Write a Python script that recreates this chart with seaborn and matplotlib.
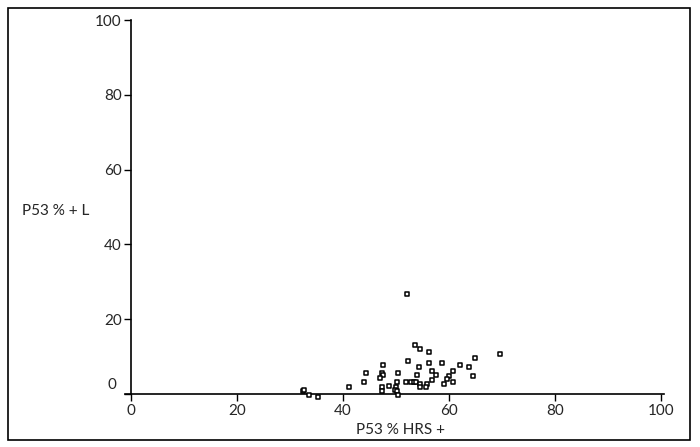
import numpy as np
import pandas as pd
import seaborn as sns
import matplotlib.pyplot as plt
from matplotlib.patches import Rectangle

# values
hrs = [52.1, 53.5, 54.6, 56.3, 69.7, 64.9, 47.6, 52.3, 56.3, 58.6,
       62.1, 63.8, 54.4, 60.8, 56.8, 44.4, 47.4, 50.4, 47.6, 57.6,
       54.0, 64.6, 47.0, 59.9, 59.7, 56.8, 44.0, 50.1, 51.8, 52.9,
       53.3, 53.8, 60.8, 54.6, 55.9, 59.1, 48.7, 41.2, 47.4, 49.9,
       54.6, 55.7, 49.7, 47.4, 50.1, 50.4, 32.5, 32.6, 33.6, 35.2]
lpos = [26.8, 13.1, 12.1, 11.1, 10.8, 9.7, 7.7, 8.7, 8.2, 8.2,
        7.7, 7.2, 7.2, 6.2, 6.2, 5.7, 5.7, 5.7, 5.1, 5.1,
        5.2, 4.7, 4.2, 4.7, 3.9, 3.8, 3.3, 3.3, 3.3, 3.3,
        3.3, 3.3, 3.3, 2.8, 2.8, 2.7, 2.2, 1.8, 1.8, 1.8,
        1.8, 1.8, 1.1, 0.8, 0.8, -0.3, 0.8, 1.2, -0.3, -0.7]
ticks = [0, 20, 40, 60, 80, 100]

df = pd.DataFrame({"hrs": hrs, "l": lpos})

sns.set_style("white")
plt.rcParams["font.family"] = ["Lato", "DejaVu Sans"]

fig = plt.figure(figsize=(7, 4.47), dpi=100)
ax = fig.add_axes([125 / 700, 1 - 394 / 447, (664 - 125) / 700, (394 - 20) / 447])

sns.scatterplot(data=df, x="hrs", y="l", ax=ax, marker="s", s=10,
                facecolor="white", edgecolor="black", linewidth=1.1,
                clip_on=False, zorder=3)

ax.set_xlim(-1.2, 100.6)
ax.set_ylim(0, 100)
ax.spines["left"].set_position(("data", 0))
for s in ["top", "right"]:
    ax.spines[s].set_visible(False)
for s in ["left", "bottom"]:
    ax.spines[s].set_color("black")
    ax.spines[s].set_linewidth(1.2)

ax.set_xticks(ticks)
ax.set_xticklabels([str(t) for t in ticks], fontsize=11)
ax.set_yticks(ticks)
ax.set_yticklabels([""] + [str(t) for t in ticks[1:]], fontsize=11)
ax.text(0.0, 0.025, "0  ", transform=ax.transAxes, ha="right", va="center",
        fontsize=11)
ax.tick_params(axis="both", which="both", direction="out", length=5,
               width=1, color="black", left=True, bottom=True, pad=2)
ax.set_xlabel("")
ax.set_ylabel("")

fig.text(22 / 700, 1 - 211 / 447, "P53 % + L", ha="left", va="center",
         fontsize=11)
fig.text(400 / 700, 1 - 430 / 447, "P53 % HRS +", ha="center", va="center",
         fontsize=11)

fig.patches.append(Rectangle((8 / 700, 1 - 440 / 447), 682 / 700, 432 / 447,
                             transform=fig.transFigure, fill=False,
                             edgecolor="black", linewidth=1.2))

fig.savefig("out.png", dpi=100)
